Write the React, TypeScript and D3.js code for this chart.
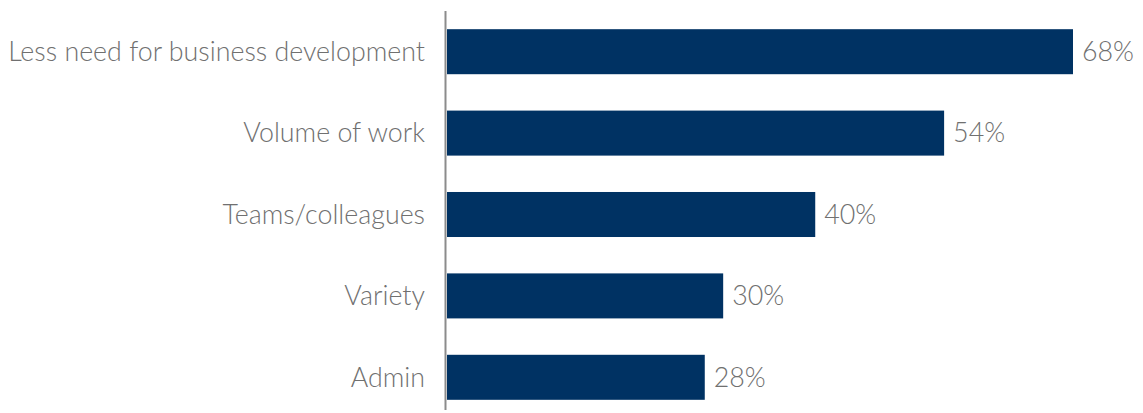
import React from "react";
import * as d3 from "d3";

const categories: string[] = [
  "Less need for business development",
  "Volume of work",
  "Teams/colleagues",
  "Variety",
  "Admin",
];
const values: number[] = [68, 54, 40, 30, 28];

const W = 1143;
const H = 413;

export default function App() {
  const x0 = 447;
  const x = d3.scaleLinear().domain([0, 68]).range([x0, 1073]);
  const y = d3
    .scaleBand<string>()
    .domain(categories)
    .range([11, 418])
    .paddingInner(0.447)
    .paddingOuter(0.2235);
  const font = "Lato, 'Open Sans', sans-serif";
  const fs = 26.8;
  return (
    <svg
      width={W}
      height={H}
      style={{ position: "absolute", left: 0, top: 0, background: "#fff" }}
      fontFamily={font}
    >
      {categories.map((c, i) => {
        const yy = y(c)!;
        const bh = y.bandwidth();
        return (
          <g key={c}>
            <rect x={x(0)} y={yy} width={x(values[i]) - x(0)} height={bh} fill="#003263" />
            <text
              x={425}
              y={yy + bh / 2}
              dy="0.35em"
              textAnchor="end"
              fontSize={fs}
              fontWeight={300}
              fill="#707070"
            >
              {c}
            </text>
            <text
              x={x(values[i]) + 9}
              y={yy + bh / 2}
              dy="0.35em"
              textAnchor="start"
              fontSize={fs}
              fontWeight={300}
              fill="#707070"
            >
              {values[i]}%
            </text>
          </g>
        );
      })}
      <line x1={445.5} x2={445.5} y1={11} y2={410} stroke="#8c8c8c" strokeWidth={2} />
    </svg>
  );
}
